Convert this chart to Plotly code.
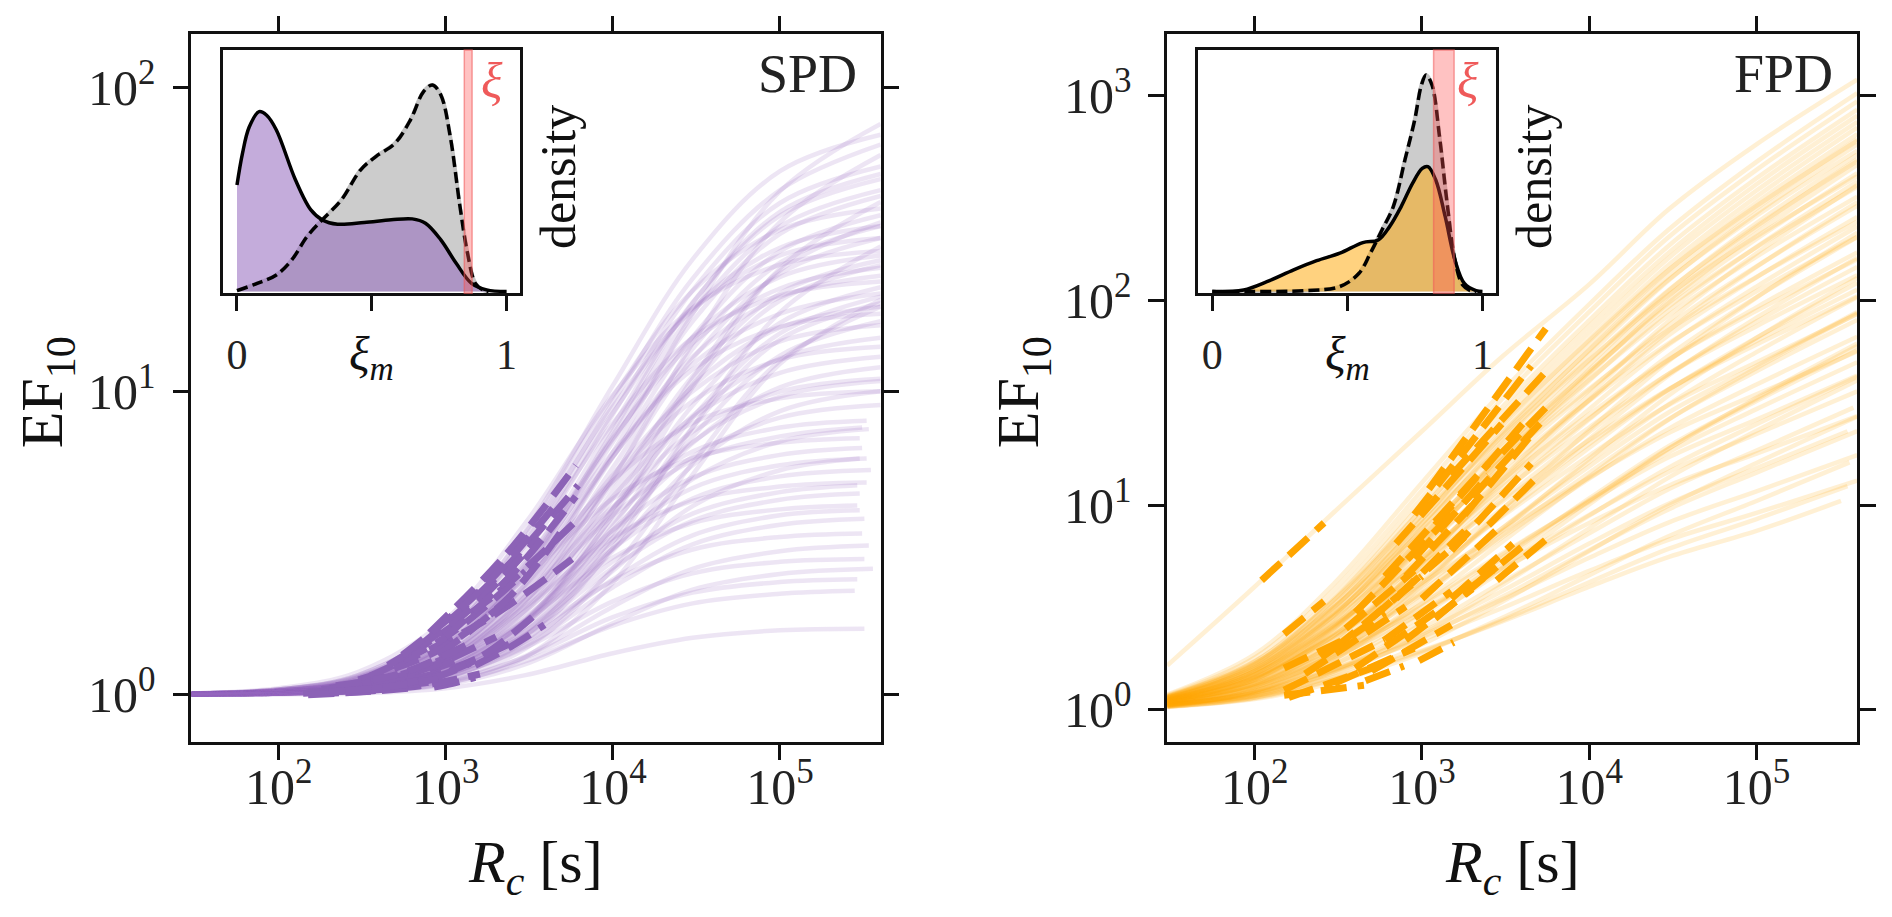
import math
import plotly.graph_objects as go

# ---------------- data ----------------
# R_c sample points of the EF10 curves (s); last point of each curve set by *_r_end
r_grid = [30, 100, 300, 1e3, 3e3, 1e4, 3e4, 1e5, 4e5]

# SPD (left panel) curves, EF10 at r_grid
spd_curves = [
    [1.005, 1.02, 1.08, 1.35, 2.31, 6.30, 18.0, 45.6, 76],
    [1.004, 1.02, 1.07, 1.28, 2.03, 5.17, 14.4, 36.1, 60],
    [1.003, 1.01, 1.05, 1.19, 1.72, 3.90, 10.3, 25.4, 42],
    [1.002, 1.01, 1.03, 1.14, 1.51, 3.05, 7.59, 18.2, 30],
    [1.001, 1.01, 1.02, 1.09, 1.33, 2.34, 5.31, 12.3, 20],
    [1.01, 1.04, 1.16, 1.68, 3.47, 10.45, 27.2, 53.1, 70],
    [1.01, 1.03, 1.13, 1.53, 2.93, 8.40, 21.5, 41.7, 55],
    [1.01, 1.03, 1.11, 1.44, 2.61, 7.17, 18.1, 34.9, 46],
    [1.01, 1.02, 1.09, 1.36, 2.33, 6.07, 15.1, 28.9, 38],
    [1.005, 1.02, 1.07, 1.30, 2.11, 5.25, 12.8, 24.4, 32],
    [1.004, 1.02, 1.06, 1.25, 1.90, 4.43, 10.5, 19.9, 26],
    [1.003, 1.01, 1.05, 1.21, 1.75, 3.88, 8.98, 16.8, 22],
    [1.002, 1.01, 1.04, 1.16, 1.57, 3.19, 7.08, 13.1, 17],
    [1.01, 1.04, 1.16, 1.68, 3.42, 9.60, 21.4, 34.0, 40],
    [1.01, 1.04, 1.14, 1.59, 3.11, 8.50, 18.8, 29.7, 35],
    [1.01, 1.03, 1.11, 1.47, 2.68, 6.95, 15.1, 23.8, 28],
    [1.01, 1.03, 1.10, 1.40, 2.43, 6.07, 13.0, 20.4, 24],
    [1.005, 1.02, 1.08, 1.31, 2.12, 4.97, 10.4, 16.2, 19],
    [1.004, 1.02, 1.06, 1.24, 1.87, 4.09, 8.3, 12.8, 15],
    [1.003, 1.01, 1.05, 1.19, 1.68, 3.42, 6.75, 10.3, 12],
    [1.01, 1.05, 1.19, 1.77, 3.68, 9.72, 18.8, 26.1, 29],
    [1.01, 1.04, 1.15, 1.61, 3.10, 7.85, 15.0, 20.7, 23],
    [1.01, 1.03, 1.11, 1.47, 2.62, 6.29, 11.8, 16.3, 18],
    [1.005, 1.02, 1.09, 1.36, 2.24, 5.05, 9.27, 12.7, 14],
    [1.004, 1.02, 1.07, 1.28, 1.96, 4.11, 7.36, 9.97, 11],
    [1.003, 1.01, 1.05, 1.22, 1.76, 3.49, 6.09, 8.18, 9],
    [1.008, 1.035, 1.14, 1.60, 3.2, 9.2, 23.5, 46, 65],
    [1.006, 1.03, 1.10, 1.42, 2.55, 6.8, 17.0, 33, 44],
    [1.005, 1.02, 1.08, 1.33, 2.2, 5.6, 13.8, 26.5, 35],
    [1.004, 1.02, 1.06, 1.27, 1.98, 4.7, 11.2, 21.0, 27],
    [1.003, 1.01, 1.05, 1.20, 1.70, 3.6, 8.2, 15.5, 20.5],
    [1.008, 1.04, 1.15, 1.64, 3.3, 8.9, 18.5, 28, 32],
    [1.007, 1.03, 1.12, 1.50, 2.75, 7.0, 14.4, 21.8, 25.5],
    [1.006, 1.03, 1.10, 1.43, 2.5, 6.1, 12.3, 18.0, 21],
    [1.005, 1.02, 1.09, 1.37, 2.3, 5.3, 10.0, 14.6, 16.5],
    [1.004, 1.02, 1.07, 1.30, 2.05, 4.5, 8.2, 11.5, 13],
    [1.003, 1.01, 1.05, 1.22, 1.78, 3.7, 6.8, 9.6, 10.8],
    [1.006, 1.03, 1.11, 1.43, 2.6, 7.4, 19.5, 39, 52],
    [1.003, 1.01, 1.04, 1.17, 1.62, 3.3, 7.6, 14.8, 19.5],
    [1.002, 1.01, 1.03, 1.12, 1.42, 2.6, 5.8, 12.6, 19],
    [1.003, 1.01, 1.05, 1.21, 1.76, 4.1, 11.0, 25.0, 36],
    [1.007, 1.03, 1.11, 1.48, 2.75, 7.71, 19.6, 37.9, 50],
    [1.002, 1.01, 1.04, 1.16, 1.56, 2.98, 5.70, 8.60, 10],
    [1.01, 1.03, 1.11, 1.44, 2.45, 5.07, 7.86, 9.47, 10],
    [1.005, 1.02, 1.08, 1.34, 2.13, 4.16, 6.33, 7.59, 8],
    # curves that stop short of the right edge
    [1.003, 1.01, 1.04, 1.18, 1.62, 3.02, 5.13, 6.83, 7.5],
    [1.004, 1.02, 1.07, 1.27, 1.89, 3.48, 5.19, 6.17, 6.5],
    [1.003, 1.02, 1.05, 1.22, 1.73, 3.03, 4.43, 5.24, 5.5],
    [1.003, 1.01, 1.04, 1.18, 1.58, 2.62, 3.74, 4.39, 4.6],
    [1.002, 1.01, 1.03, 1.14, 1.45, 2.26, 3.13, 3.63, 3.8],
    [1.002, 1.01, 1.03, 1.10, 1.34, 1.95, 2.60, 2.97, 3.1],
    [1.01, 1.03, 1.12, 1.46, 2.43, 4.43, 6.02, 6.77, 7],
    [1.005, 1.02, 1.08, 1.31, 1.95, 3.29, 4.35, 4.85, 5],
    [1.004, 1.02, 1.06, 1.25, 1.76, 2.83, 3.68, 4.08, 4.2],
    [1.003, 1.01, 1.05, 1.18, 1.57, 2.37, 3.01, 3.31, 3.4],
    [1.002, 1.01, 1.04, 1.14, 1.43, 2.03, 2.51, 2.74, 2.8],
    [1.002, 1.01, 1.03, 1.11, 1.33, 1.80, 2.17, 2.35, 2.4],
    [1.001, 1.01, 1.02, 1.09, 1.29, 1.69, 2.00, 2.15, 2.2],
    [1.001, 1.003, 1.01, 1.05, 1.16, 1.37, 1.54, 1.63, 1.65],
    [1.002, 1.01, 1.03, 1.14, 1.48, 2.56, 4.18, 5.49, 6],
    [1.001, 1.005, 1.02, 1.08, 1.26, 1.72, 2.22, 2.50, 2.6],
    [1.005, 1.02, 1.08, 1.32, 2.05, 3.9, 5.9, 7.1, 7.6],
    [1.004, 1.02, 1.06, 1.25, 1.80, 3.2, 4.8, 5.7, 6.0],
    [1.003, 1.01, 1.05, 1.20, 1.62, 2.75, 3.95, 4.65, 4.9],
    [1.002, 1.01, 1.04, 1.16, 1.50, 2.40, 3.35, 3.9, 4.05],
    [1.002, 1.01, 1.03, 1.12, 1.38, 2.05, 2.75, 3.15, 3.25],
]
spd_r_end = [4e5] * 44 + [3.3e5, 3.4e5, 3.1e5, 3.5e5, 3.0e5, 3.2e5, 3.4e5, 3.0e5,
                          3.3e5, 2.9e5, 3.1e5, 3.2e5, 2.9e5, 2.8e5, 3.2e5, 3.0e5,
                          3.6e5, 3.1e5, 3.3e5, 2.9e5, 3.0e5]

# SPD measured (dashed) segments
spd_dash_r = [
    [800, 2300, 6000], [700, 2100, 6200], [600, 1900, 5900], [500, 1700, 5700],
    [1500, 2500, 3900], [850, 1100, 1500], [300, 900, 2500], [350, 1000, 3000],
    [450, 1300, 3600], [550, 1600, 4500], [200, 500, 1300], [180, 450, 1200],
    [150, 350, 950], [140, 250, 500], [250, 700, 2000], [400, 1000, 2600],
    [650, 1500, 3300], [900, 2400, 5000], [1000, 2500, 6000], [220, 550, 1400],
    [160, 280, 450], [300, 700, 1600], [150, 300, 600], [200, 400, 800],
    [500, 900, 1400], [250, 500, 900],
]
spd_dash_ef = [
    [1.6, 2.9, 5.7], [1.45, 2.5, 4.9], [1.35, 2.1, 3.7], [1.25, 1.75, 2.8],
    [1.25, 1.45, 1.7], [1.06, 1.09, 1.14], [1.12, 1.4, 2.1], [1.15, 1.55, 2.55],
    [1.25, 1.85, 3.3], [1.35, 2.2, 4.2], [1.05, 1.15, 1.4], [1.04, 1.1, 1.3],
    [1.02, 1.05, 1.15], [1.01, 1.03, 1.06], [1.06, 1.2, 1.55], [1.08, 1.2, 1.5],
    [1.1, 1.3, 1.8], [1.35, 2.1, 3.5], [1.55, 2.5, 4.5], [1.07, 1.18, 1.48],
    [1.01, 1.02, 1.04], [1.03, 1.07, 1.17], [1.0, 1.02, 1.05], [1.02, 1.05, 1.1],
    [1.08, 1.15, 1.27], [1.03, 1.07, 1.13],
]

# FPD (right panel) curves, EF10 at r_grid
fpd_curves = [
    [1.65, 4.0, 9.3, 23, 53, 120, 280, 580, 1200],
    [1.19, 1.87, 4.17, 12.9, 35.8, 96, 223, 476, 1031],
    [1.16, 1.72, 3.64, 10.9, 30.0, 80, 186, 396, 858],
    [1.14, 1.63, 3.30, 9.6, 26.2, 69.9, 162, 345, 747],
    [1.12, 1.55, 3.0, 8.5, 23, 61, 141, 301, 651],
    [1.11, 1.49, 2.78, 7.7, 20.6, 54.5, 126, 268, 580],
    [1.10, 1.44, 2.59, 6.96, 18.5, 48.6, 112, 239, 517],
    [1.08, 1.39, 2.42, 6.3, 16.6, 43.5, 100, 213, 461],
    [1.07, 1.31, 2.13, 5.2, 13.4, 34.7, 79.7, 170, 367],
    [1.16, 1.69, 3.43, 9.6, 25.0, 63.8, 142, 290, 604],
    [1.12, 1.55, 2.93, 7.8, 20.1, 50.9, 113, 231, 480],
    [1.10, 1.44, 2.53, 6.4, 16.2, 40.6, 89.7, 183, 381],
    [1.08, 1.35, 2.22, 5.3, 13.1, 32.5, 71.4, 146, 303],
    [1.06, 1.24, 1.86, 4.05, 9.5, 23.3, 50.8, 103.5, 215],
    [1.17, 1.73, 3.45, 9.0, 21.6, 51.4, 107, 206, 405],
    [1.14, 1.58, 2.95, 7.3, 17.4, 41.1, 85.2, 164, 322],
    [1.11, 1.46, 2.55, 6.0, 14.0, 32.8, 67.9, 130, 256],
    [1.09, 1.37, 2.23, 5.0, 11.3, 26.3, 54.1, 104, 204],
    [1.07, 1.29, 1.98, 4.17, 9.2, 21.1, 43.2, 82.5, 162],
    [1.05, 1.23, 1.77, 3.52, 7.5, 16.9, 34.5, 65.7, 129],
    [1.17, 1.69, 3.2, 7.5, 16.7, 37.1, 72.2, 130.5, 243],
    [1.12, 1.49, 2.56, 5.6, 12.2, 26.6, 51.4, 92.7, 172],
    [1.08, 1.34, 2.10, 4.28, 8.9, 19.1, 36.7, 65.9, 122],
    [1.06, 1.24, 1.78, 3.32, 6.6, 13.8, 26.3, 46.9, 86.7],
    [1.04, 1.17, 1.55, 2.64, 4.95, 10.1, 18.9, 33.5, 61.7],
    [1.15, 1.61, 2.89, 6.3, 13.2, 27.8, 51.7, 89.2, 159],
    [1.11, 1.43, 2.34, 4.77, 9.6, 19.95, 36.9, 63.5, 113],
    [1.08, 1.31, 1.95, 3.67, 7.1, 14.4, 26.4, 45.2, 80.4],
    [1.05, 1.22, 1.67, 2.89, 5.33, 10.5, 19.0, 32.3, 57.2],
    [1.04, 1.15, 1.48, 2.34, 4.06, 7.72, 13.7, 23.1, 40.8],
    [1.14, 1.54, 2.63, 5.3, 10.4, 20.8, 37.0, 61.0, 105],
    [1.09, 1.34, 2.03, 3.73, 6.96, 13.5, 23.7, 38.9, 66.6],
    [1.06, 1.22, 1.65, 2.72, 4.76, 8.9, 15.3, 24.9, 42.4],
    [1.04, 1.14, 1.41, 2.09, 3.37, 5.97, 10.0, 16.1, 27.1],
    [1.12, 1.45, 2.30, 4.18, 7.42, 13.65, 22.6, 34.8, 56.4],
    [1.08, 1.29, 1.82, 3.0, 5.05, 8.98, 14.6, 22.3, 36.0],
    [1.05, 1.18, 1.52, 2.26, 3.56, 6.03, 9.58, 14.45, 23.05],
    [1.10, 1.34, 1.93, 3.08, 4.9, 8.19, 12.5, 17.9, 27.3],
    [1.06, 1.21, 1.59, 2.31, 3.46, 5.54, 8.26, 11.7, 17.6],
    [1.06, 1.21, 1.57, 2.2, 3.14, 4.78, 6.79, 9.18, 13.2],
    [1.18, 1.80, 3.9, 11.8, 33, 88, 205, 435, 940],
    [1.15, 1.68, 3.5, 10.2, 28, 75, 172, 370, 800],
    [1.13, 1.59, 3.15, 9.0, 24.5, 65, 150, 322, 700],
    [1.11, 1.52, 2.9, 8.1, 21.8, 57.5, 133, 283, 615],
    [1.09, 1.41, 2.5, 6.6, 17.5, 46, 106, 226, 490],
    [1.15, 1.62, 3.2, 8.6, 22.4, 57, 127, 260, 540],
    [1.13, 1.50, 2.7, 6.9, 17.6, 44.5, 98, 200, 420],
    [1.16, 1.66, 3.2, 8.2, 19.2, 45, 94, 182, 360],
    [1.12, 1.52, 2.75, 6.6, 15.6, 36.5, 76, 147, 290],
    [1.10, 1.41, 2.39, 5.5, 12.6, 29.5, 61, 117, 230],
    [1.14, 1.59, 3.0, 6.9, 15.0, 32.5, 62, 111, 205],
    [1.10, 1.41, 2.33, 5.0, 10.6, 22.8, 44, 79, 146],
    [1.07, 1.28, 1.90, 3.78, 7.7, 16.3, 31.2, 56, 104],
    [1.13, 1.50, 2.6, 5.5, 11.6, 24.0, 44, 75, 133],
    [1.09, 1.36, 2.10, 4.0, 7.7, 15.5, 28.5, 48, 88],
    [1.06, 1.24, 1.74, 3.0, 5.5, 10.8, 19.5, 33, 60],
    [1.11, 1.42, 2.3, 4.6, 8.8, 17.5, 31, 50, 86],
    [1.07, 1.27, 1.83, 3.2, 5.7, 10.6, 18.2, 29.5, 50],
    [1.09, 1.30, 1.87, 3.3, 5.8, 10.4, 17.2, 26.2, 43],
    # curves that stop short of the right edge
    [1.035, 1.13, 1.37, 1.90, 2.81, 4.56, 7.08, 10.5, 16.2],
    [1.04, 1.15, 1.42, 1.93, 2.74, 4.21, 6.14, 8.57, 12.4],
    [1.05, 1.17, 1.45, 1.95, 2.7, 4.0, 5.6, 7.5, 10.5],
    [1.05, 1.19, 1.57, 2.5, 4.2, 7.3, 12.0, 18.5, 30],
    [1.06, 1.20, 1.55, 2.4, 3.8, 6.5, 10.2, 15.2, 23],
]
fpd_r_end = [4e5] * 59 + [3.6e5, 3.5e5, 3.2e5, 3.8e5, 3.5e5]

# FPD measured (dashed) segments
fpd_dash_r = [
    [1100, 5500], [900, 4500], [1500, 5500], [700, 3000], [1200, 4000],
    [600, 2500], [2000, 5500], [800, 2000], [1500, 4500], [400, 1500],
    [2500, 5000], [500, 1800], [1000, 3000], [300, 1000], [2800, 5500],
    [2000, 4000], [200, 800], [600, 1500], [1200, 2800], [150, 600],
    [400, 1200], [800, 2000], [160, 500], [300, 900], [500, 1500],
    [150, 450], [460, 780], [960, 1550], [1500, 3500], [700, 1800],
    [350, 900], [900, 2500], [3000, 5500], [110, 260], [150, 260],
    [150, 340], [250, 600], [1800, 4500],
]
fpd_dash_ef = [
    [12, 73], [9, 48], [14, 45], [6.5, 25], [8, 25],
    [4.5, 16], [11, 27], [4.5, 10], [6, 16], [3, 9],
    [8, 14], [2.8, 7], [3.5, 8], [2, 4.5], [4.3, 6.8],
    [4, 6.3], [1.5, 3.2], [2.2, 3.8], [2.8, 5.0], [1.25, 2.2],
    [1.6, 3.0], [2.2, 3.9], [1.15, 1.6], [1.35, 2.0], [1.55, 2.6],
    [1.18, 1.32], [1.39, 1.64], [1.74, 2.14], [3.5, 6.5], [3.5, 7.5],
    [2.5, 4.8], [5.5, 14], [18, 30], [4.3, 8.2], [2.35, 3.4],
    [1.6, 2.2], [1.8, 3.0], [9, 22],
]

# inset densities of xi_m (relative units)
spd_xi_solid = [0.0, 0.02, 0.045, 0.082, 0.11, 0.146, 0.217, 0.274, 0.316, 0.373,
                0.472, 0.572, 0.65, 0.699, 0.756, 0.813, 0.87, 0.926, 1.0]
spd_dens_solid = [0.441, 0.57, 0.68, 0.745, 0.73, 0.669, 0.462, 0.338, 0.297, 0.279,
                  0.286, 0.297, 0.301, 0.283, 0.214, 0.117, 0.034, 0.007, 0.0]
spd_xi_dashed = [0.0, 0.075, 0.146, 0.203, 0.26, 0.316, 0.387, 0.458, 0.515, 0.586,
                 0.643, 0.692, 0.725, 0.756, 0.791, 0.827, 0.855, 0.884, 0.912, 0.933]
spd_dens_dashed = [0.004, 0.034, 0.069, 0.131, 0.228, 0.297, 0.379, 0.503, 0.559, 0.614,
                   0.710, 0.828, 0.855, 0.814, 0.641, 0.352, 0.159, 0.034, 0.007, 0.0]
fpd_xi_solid = [0.0, 0.116, 0.202, 0.301, 0.386, 0.472, 0.557, 0.614, 0.656, 0.699,
                0.741, 0.777, 0.798, 0.827, 0.862, 0.898, 0.933, 0.976, 1.0]
fpd_dens_solid = [0.0, 0.007, 0.041, 0.09, 0.128, 0.159, 0.203, 0.214, 0.269, 0.352,
                  0.448, 0.51, 0.517, 0.462, 0.31, 0.131, 0.034, 0.004, 0.0]
fpd_xi_dashed = [0.0, 0.145, 0.344, 0.472, 0.543, 0.585, 0.628, 0.67, 0.713, 0.749,
                 0.774, 0.791, 0.813, 0.841, 0.869, 0.898, 0.926, 0.955, 0.976]
fpd_dens_dashed = [0.0, 0.0, 0.004, 0.021, 0.076, 0.159, 0.255, 0.352, 0.545, 0.71,
                   0.855, 0.897, 0.855, 0.641, 0.366, 0.131, 0.028, 0.004, 0.0]

spd_xi_band = [0.843, 0.872]
fpd_xi_band = [0.819, 0.895]

x_ticks = [1e2, 1e3, 1e4, 1e5]
x_ticktext = ["10<sup>2</sup>", "10<sup>3</sup>", "10<sup>4</sup>", "10<sup>5</sup>"]
spd_y_ticks = [1, 10, 100]
fpd_y_ticks = [1, 10, 100, 1000]
y_ticktext = ["10<sup>0</sup>", "10<sup>1</sup>", "10<sup>2</sup>", "10<sup>3</sup>"]

# ---------------- figure ----------------
FONT = "Liberation Serif, DejaVu Serif, serif"
W, H = 1892, 917

fig = go.Figure()


def add_panel(curves, r_end, dash_r, dash_ef, light, dark, xa, ya):
    for vals, rend in zip(curves, r_end):
        fig.add_trace(go.Scatter(
            x=r_grid[:-1] + [rend], y=vals, mode="lines",
            line=dict(color=light, width=4.5, shape="spline"),
            xaxis=xa, yaxis=ya, hoverinfo="skip", showlegend=False))
    for rr, ee in zip(dash_r, dash_ef):
        fig.add_trace(go.Scatter(
            x=rr, y=ee, mode="lines",
            line=dict(color=dark, width=7, dash="26px,11px", shape="spline"),
            xaxis=xa, yaxis=ya, hoverinfo="skip", showlegend=False))


def add_inset(xi_d, dens_d, xi_s, dens_s, fill, xa, ya):
    fig.add_trace(go.Scatter(
        x=xi_d, y=dens_d, mode="lines", fill="tozeroy",
        fillcolor="rgba(128,128,128,0.4)",
        line=dict(color="rgb(195,195,195)", width=4, shape="spline"),
        xaxis=xa, yaxis=ya, hoverinfo="skip", showlegend=False))
    fig.add_trace(go.Scatter(
        x=xi_s, y=dens_s, mode="lines", fill="tozeroy", fillcolor=fill,
        line=dict(color=fill, width=0.5, shape="spline"),
        xaxis=xa, yaxis=ya, hoverinfo="skip", showlegend=False))
    fig.add_trace(go.Scatter(
        x=xi_s, y=dens_s, mode="lines",
        line=dict(color="black", width=3.5, shape="spline"),
        xaxis=xa, yaxis=ya, hoverinfo="skip", showlegend=False))
    fig.add_trace(go.Scatter(
        x=xi_d, y=dens_d, mode="lines",
        line=dict(color="black", width=3.5, dash="11px,5px", shape="spline"),
        xaxis=xa, yaxis=ya, hoverinfo="skip", showlegend=False))


add_panel(spd_curves, spd_r_end, spd_dash_r, spd_dash_ef,
          "rgba(148,103,189,0.17)", "#8c62b6", "x", "y")
add_panel(fpd_curves, fpd_r_end, fpd_dash_r, fpd_dash_ef,
          "rgba(255,165,0,0.17)", "#ffa500", "x2", "y2")
add_inset(spd_xi_dashed, spd_dens_dashed, spd_xi_solid, spd_dens_solid,
          "rgba(148,103,189,0.55)", "x3", "y3")
add_inset(fpd_xi_dashed, fpd_dens_dashed, fpd_xi_solid, fpd_dens_solid,
          "rgba(255,165,0,0.5)", "x4", "y4")

# pixel geometry of the panels
px_l = (191.3, 880.6)
px_r = (1167.2, 1857.2)
py = (34.3, 741.7)
inset_y = (50.0, 293.3)
inset_l = (222.7, 520.1)
inset_r = (1198.0, 1496.0)


def xd(p):
    return [p[0] / W, p[1] / W]


def yd(p):
    return [1 - p[1] / H, 1 - p[0] / H]


axis_style = dict(showline=True, linewidth=2.5, linecolor="#111", mirror="ticks",
                  ticks="outside", ticklen=16, tickwidth=2.5, tickcolor="#111",
                  showgrid=False, zeroline=False,
                  tickfont=dict(family=FONT, size=50, color="#222"))
inset_style = dict(showline=True, linewidth=2.5, linecolor="#111", mirror=True,
                   showgrid=False, zeroline=False)
inset_x_ticks = dict(ticks="outside", ticklen=15, tickwidth=2.5, tickcolor="#111",
                     tickvals=[0, 1], ticktext=["0", "1"], ticklabelstandoff=8,
                     minor=dict(tickvals=[0.5], ticks="outside", ticklen=15,
                                tickwidth=2.5, tickcolor="#111", showgrid=False),
                     tickfont=dict(family=FONT, size=42, color="#222"))

xrange = [math.log10(30), math.log10(4e5)]

fig.update_layout(
    width=W, height=H,
    margin=dict(l=0, r=0, t=0, b=0),
    paper_bgcolor="white", plot_bgcolor="white",
    showlegend=False, hovermode=False,
    font=dict(family=FONT, color="#222"),
    xaxis=dict(type="log", range=xrange, domain=xd(px_l), anchor="y",
               tickvals=x_ticks, ticktext=x_ticktext, ticklabelstandoff=-16, **axis_style),
    yaxis=dict(type="log", range=[math.log10(0.7), math.log10(150)], domain=yd(py),
               anchor="x", tickvals=spd_y_ticks, ticktext=y_ticktext[:3],
               ticklabelstandoff=7, **axis_style),
    xaxis2=dict(type="log", range=xrange, domain=xd(px_r), anchor="y2",
                tickvals=x_ticks, ticktext=x_ticktext, ticklabelstandoff=-16, **axis_style),
    yaxis2=dict(type="log", range=[math.log10(0.7), math.log10(2000)], domain=yd(py),
                anchor="x2", tickvals=fpd_y_ticks, ticktext=y_ticktext,
                ticklabelstandoff=7, **axis_style),
    xaxis3=dict(range=[-0.053, 1.05], domain=xd(inset_l), anchor="y3",
                **inset_x_ticks, **inset_style),
    yaxis3=dict(range=[-0.007, 1.0], domain=yd(inset_y), anchor="x3",
                showticklabels=False, ticks="", **inset_style),
    xaxis4=dict(range=[-0.053, 1.05], domain=xd(inset_r), anchor="y4",
                **inset_x_ticks, **inset_style),
    yaxis4=dict(range=[-0.007, 1.0], domain=yd(inset_y), anchor="x4",
                showticklabels=False, ticks="", **inset_style),
)

# xi band in the insets
for band, xa, ya in [(spd_xi_band, "x3", "y3"), (fpd_xi_band, "x4", "y4")]:
    fig.add_shape(type="rect", xref=xa, yref=ya + " domain", x0=band[0], x1=band[1],
                  y0=0, y1=1, fillcolor="rgba(255,80,80,0.35)",
                  line=dict(color="rgba(240,90,90,0.55)", width=1.5), layer="above")

ann = []
for (xl, xr), name, xa in [(px_l, "SPD", "x3"), (px_r, "FPD", "x4")]:
    ann.append(dict(x=(xr - 22) / W, y=1 - 74 / H, xref="paper", yref="paper",
                    text=name, showarrow=False, xanchor="right", yanchor="middle",
                    font=dict(family=FONT, size=54, color="#222")))
    ann.append(dict(x=(xl - 145) / W, y=1 - 392 / H, xref="paper", yref="paper",
                    text="EF<sub>10</sub>", showarrow=False, textangle=-90,
                    xanchor="center", yanchor="middle",
                    font=dict(family=FONT, size=60, color="#111")))
    ann.append(dict(x=(xl + xr) / 2 / W, y=1 - 866 / H, xref="paper", yref="paper",
                    text="<i>R</i><sub><i>c</i></sub> [s]", showarrow=False,
                    xanchor="center", yanchor="middle",
                    font=dict(family=FONT, size=60, color="#111")))
    ann.append(dict(x=0.945, y=0.87, xref=xa, yref=xa.replace("x", "y"),
                    text="<i>ξ</i>", showarrow=False, xanchor="center", yanchor="middle",
                    font=dict(family=FONT, size=50, color="#ef5a5a")))
    ann.append(dict(x=0.5, y=1 - 357 / H, xref=xa, yref="paper",
                    text="<i>ξ</i><sub><i>m</i></sub>", showarrow=False,
                    xanchor="center", yanchor="middle",
                    font=dict(family=FONT, size=48, color="#111")))
for (il, ir) in [inset_l, inset_r]:
    ann.append(dict(x=(ir + 38) / W, y=1 - 177 / H, xref="paper", yref="paper",
                    text="density", showarrow=False, textangle=-90,
                    xanchor="center", yanchor="middle",
                    font=dict(family=FONT, size=50, color="#111")))
fig.update_layout(annotations=ann)

fig.write_html("out.html", config={"displayModeBar": False},
               post_script="document.body.style.margin='0px';")
